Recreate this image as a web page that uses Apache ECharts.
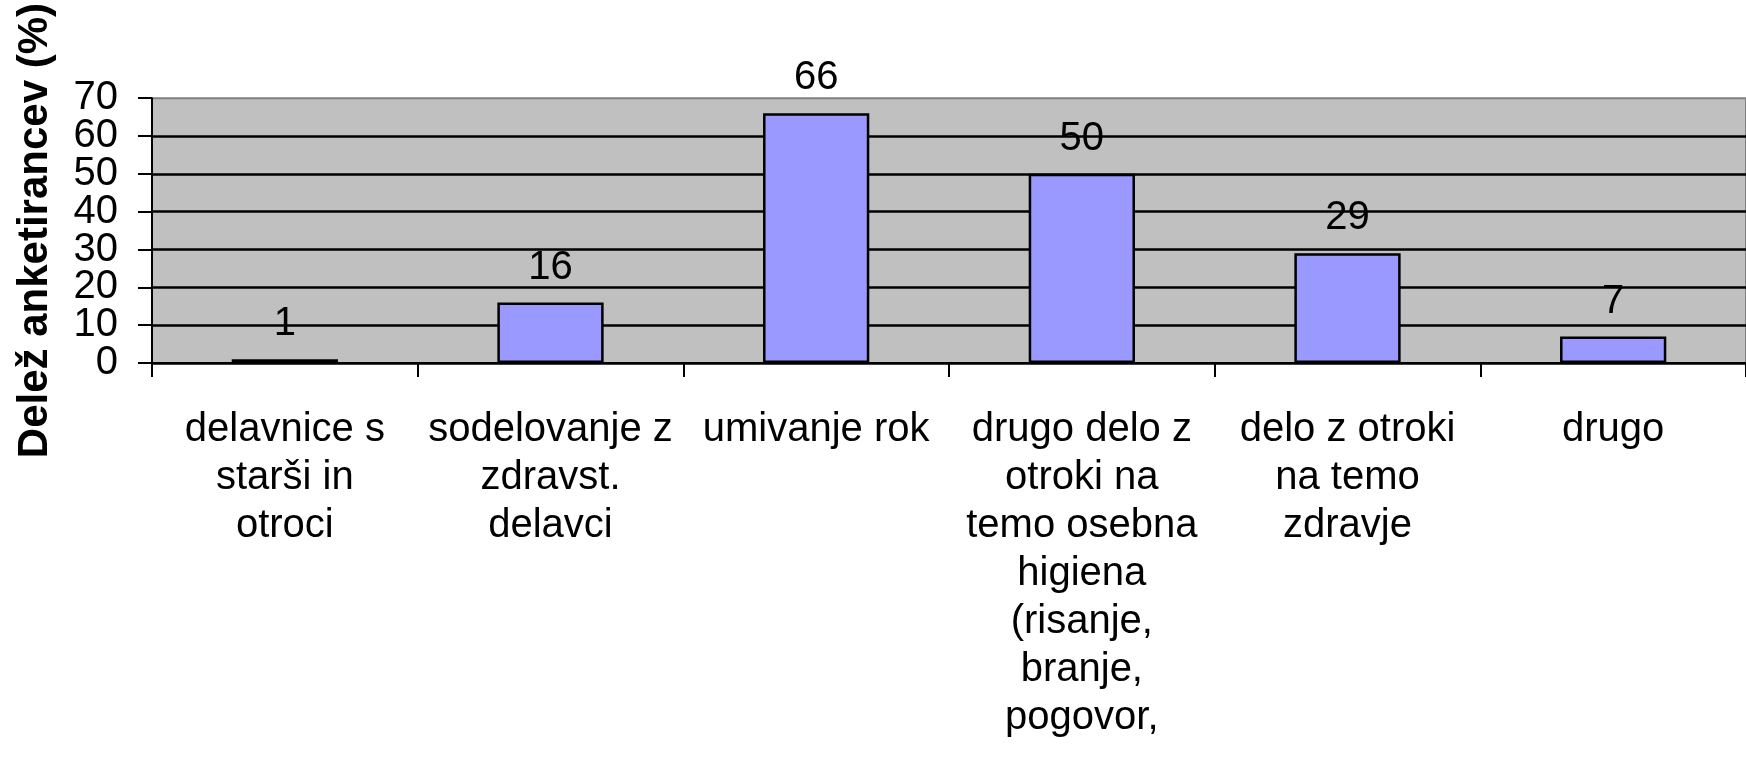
<!DOCTYPE html>
<html>
<head>
<meta charset="utf-8">
<style>
  html, body { margin: 0; padding: 0; background: #fff; }
  #chart { width: 1746px; height: 760px; }
</style>
<script src="https://cdn.jsdelivr.net/npm/echarts@6/dist/echarts.min.js"></script>
</head>
<body>
<div id="chart"></div>
<script>
const categories = [
  'delavnice s\nstarši in\notroci',
  'sodelovanje z\nzdravst.\ndelavci',
  'umivanje rok',
  'drugo delo z\notroki na\ntemo osebna\nhigiena\n(risanje,\nbranje,\npogovor,',
  'delo z otroki\nna temo\nzdravje',
  'drugo',
]
const shares = [1, 16, 66, 50, 29, 7]
const yTicks = { min: 0, max: 70, interval: 10 }
const yTitle = 'Delež anketirancev (%)'

const font = '"Liberation Sans", Arial, sans-serif'
const chart = echarts.init(document.getElementById('chart'), null, { renderer: 'canvas' })

// labels are 40px tall and the ticks only 38px apart, so echarts hides some;
// split them over two stacked axes (even / odd tens) to keep them all
const yLabel = (even) => ({
  margin: 34,
  showMinLabel: true,
  showMaxLabel: true,
  hideOverlap: false,
  color: '#000',
  fontFamily: font,
  fontSize: 40,
  formatter: (v) => ((v / yTicks.interval) % 2 === 0) === even ? String(v) : '',
})

chart.setOption({
  animation: false,
  grid: {
    left: 152,
    right: 0,
    top: 94,
    bottom: 397,
    show: true,
    backgroundColor: '#c0c0c0',
    borderColor: '#808080',
    borderWidth: 2,
  },
  xAxis: {
    type: 'category',
    data: categories,
    axisLine: { lineStyle: { color: '#000', width: 2 } },
    axisTick: { show: true, length: 14, lineStyle: { color: '#000', width: 2 } },
    axisLabel: {
      interval: 0,
      margin: 43,
      color: '#000',
      fontFamily: font,
      fontSize: 40,
      lineHeight: 48,
      align: 'center',
    },
  },
  yAxis: [{
    type: 'value',
    min: yTicks.min,
    max: yTicks.max,
    interval: yTicks.interval,
    name: yTitle,
    nameLocation: 'middle',
    nameRotate: 90,
    nameGap: 96,
    nameTextStyle: {
      color: '#000',
      fontFamily: font,
      fontSize: 42,
      fontWeight: 'bold',
    },
    axisLine: { show: true, lineStyle: { color: '#000', width: 2 } },
    axisTick: { show: true, length: 14, lineStyle: { color: '#000', width: 2 } },
    axisLabel: yLabel(true),
    splitLine: {
      show: true,
      showMaxLine: false,
      lineStyle: { color: '#000', width: 2.5 },
    },
  }, {
    type: 'value',
    position: 'left',
    min: yTicks.min,
    max: yTicks.max,
    interval: yTicks.interval,
    axisLine: { show: false },
    axisTick: { show: false },
    splitLine: { show: false },
    axisLabel: yLabel(false),
  }],
  series: [{
    type: 'bar',
    data: shares,
    barWidth: '40%',
    itemStyle: {
      color: '#9999ff',
      borderColor: '#000',
      borderWidth: 2.5,
    },
    label: {
      show: true,
      position: 'top',
      distance: 14,
      color: '#000',
      fontFamily: font,
      fontSize: 40,
      lineHeight: 42,
    },
  }],
})
</script>
</body>
</html>
